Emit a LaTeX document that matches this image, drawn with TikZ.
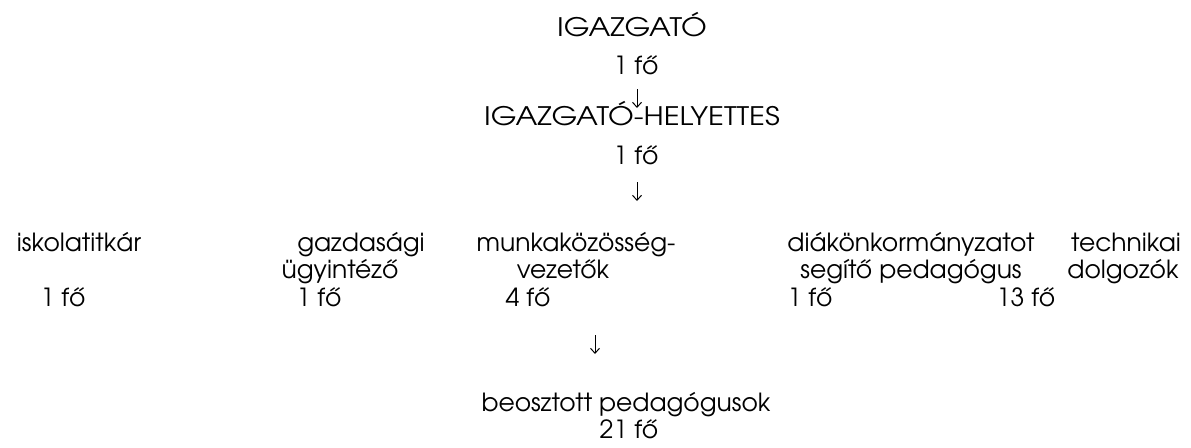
\documentclass[tikz,border=0pt]{standalone}
\usepackage{fontspec}
\setmainfont{TeX Gyre Adventor}
\newfontfamily\capsfont[FakeStretch=1.16]{TeX Gyre Adventor}
\usetikzlibrary{arrows.meta}
\tikzset{
  lbl/.style={anchor=base, inner sep=0pt, font=\fontsize{25}{30}\selectfont},
  caplbl/.style={lbl, font=\capsfont\fontsize{25.5}{30}\selectfont},
  arr/.style={draw=black, line width=1pt, -{Straight Barb[length=5pt,width=9pt,line width=1pt]}}
}
\begin{document}
\begin{tikzpicture}[x=1pt,y=-1pt]
\useasboundingbox (0,0) rectangle (1191,447);
% top
\node[caplbl] (dir) at (632,36) {IGAZGATÓ};
\node[lbl] (dirn) at (636,74) {1 fő};
\node[caplbl] (dep) at (632,125) {IGAZGATÓ-HELYETTES};
\node[lbl] (depn) at (636,164) {1 fő};
\coordinate (a1s) at (637,89);
\coordinate (a1e) at (637,108);
\coordinate (a2s) at (637,182);
\coordinate (a2e) at (637,201);
\draw[arr] (a1s) -- (a1e);
\draw[arr] (a2s) -- (a2e);
% row
\node[lbl] (isk) at (79,251) {iskolatitkár};
\node[lbl] (iskn) at (63,306) {1 fő};
\node[lbl] (gaz1) at (361,251) {gazdasági};
\node[lbl] (gaz2) at (340,278) {ügyintéző};
\node[lbl] (gazn) at (319,306) {1 fő};
\node[lbl] (mk1) at (576,251) {munkaközösség-};
\node[lbl] (mk2) at (563,278) {vezetők};
\node[lbl] (mkn) at (528,306) {4 fő};
\node[lbl] (dk1) at (911,251) {diákönkormányzatot};
\node[lbl] (dk2) at (911,278) {segítő pedagógus};
\node[lbl] (dkn) at (810,306) {1 fő};
\node[lbl] (tech1) at (1126,251) {technikai};
\node[lbl] (tech2) at (1123,278) {dolgozók};
\node[lbl] (techn) at (1026,306) {13 fő};
% bottom
\coordinate (a3s) at (595,335);
\coordinate (a3e) at (595,354);
\draw[arr] (a3s) -- (a3e);
\node[lbl] (beo) at (626,411) {beosztott pedagógusok};
\node[lbl] (beon) at (629,438) {21 fő};
\end{tikzpicture}
\end{document}
